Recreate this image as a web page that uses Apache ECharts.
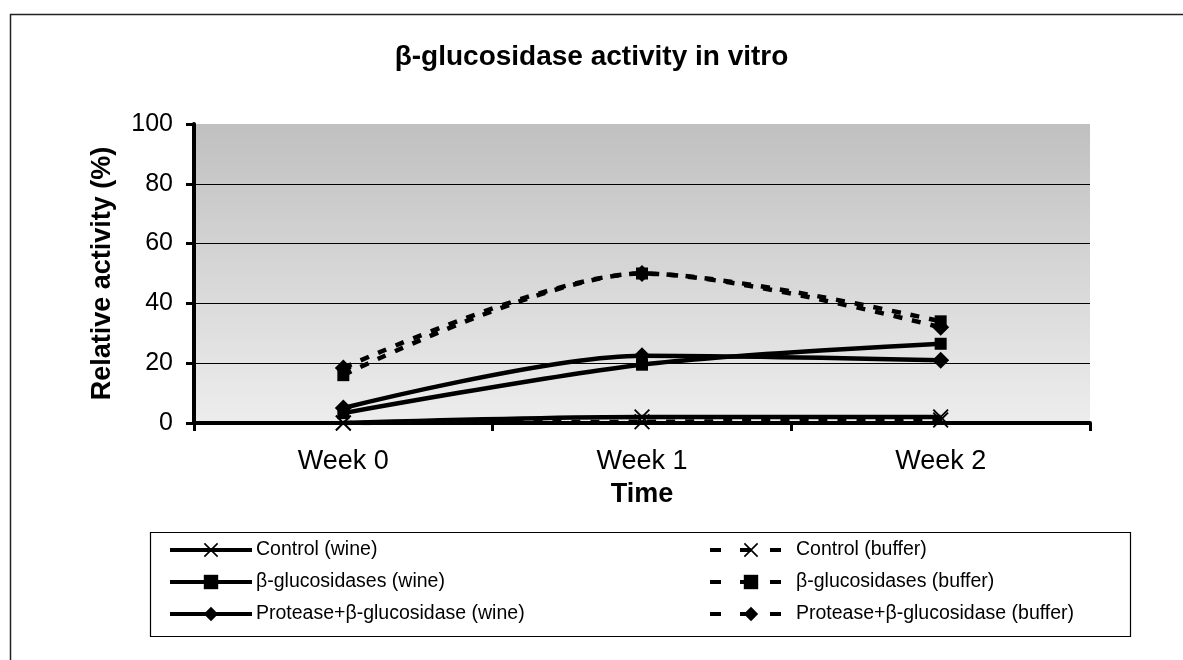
<!DOCTYPE html>
<html>
<head>
<meta charset="utf-8">
<title>β-glucosidase activity in vitro</title>
<script src="https://cdn.jsdelivr.net/npm/echarts@6/dist/echarts.min.js"></script>
<style>
    html, body { margin: 0; padding: 0; background: #fff; }
    #main { width: 1183px; height: 660px; }
</style>
</head>
<body>
<div id="main"></div>
<script>
// data
var weeks = ['Week 0', 'Week 1', 'Week 2'];
var yTicks = [0, 20, 40, 60, 80, 100];
var controlWine = [0, 2, 2];
var glucWine = [3.3, 19.5, 26.5];
var proteaseWine = [5, 22.5, 21];
var controlBuffer = [0, 0.4, 1];
var glucBuffer = [16, 50, 34];
var proteaseBuffer = [18.4, 50, 32];

var font = '"Liberation Sans", Arial, sans-serif';
var crossPath = 'path://M0,0.8 L0.8,0 L5,4.2 L9.2,0 L10,0.8 L5.8,5 L10,9.2 L9.2,10 L5,5.8 L0.8,10 L0,9.2 L4.2,5 Z';
var dash = [9, 10];
var legendDash = [11, 19];

function makeSeries(name, data, symbol, size, dashed) {
    return {
        name: name,
        type: 'line',
        data: data,
        smooth: 0.3,
        symbol: symbol,
        symbolSize: size,
        showAllSymbol: true,
        color: '#000',
        itemStyle: { color: '#000' },
        lineStyle: {
            color: '#000',
            width: 4.5,
            type: dashed ? dash : 'solid'
        },
        emphasis: { disabled: true },
        z: dashed ? 3 : 4
    };
}

function legendBox(left, items) {
    return {
        orient: 'vertical',
        left: left,
        top: 540,
        padding: 0,
        itemWidth: 82,
        itemHeight: 18,
        itemGap: 12,
        lineStyle: { width: 4 },
        textStyle: { fontFamily: font, fontSize: 19.5, color: '#000', padding: [0, 0, 0, -1] },
        data: items
    };
}

var myChart = echarts.init(document.getElementById('main'));

var option = {
    backgroundColor: '#fff',
    animation: false,
    textStyle: { fontFamily: font, color: '#000' },
    title: {
        text: 'β-glucosidase activity in vitro',
        left: 'center',
        top: 43,
        padding: 0,
        textStyle: {
            fontFamily: font,
            fontSize: 28,
            fontWeight: 'bold',
            color: '#000'
        }
    },
    grid: {
        left: 194,
        right: 93,
        top: 124,
        bottom: 237,
        show: true,
        borderWidth: 0,
        backgroundColor: {
            type: 'linear', x: 0, y: 0, x2: 0, y2: 1,
            colorStops: [
                { offset: 0, color: '#c0c0c0' },
                { offset: 1, color: '#ededed' }
            ]
        }
    },
    legend: [
        legendBox(168, ['Control (wine)', 'β-glucosidases (wine)', 'Protease+β-glucosidase (wine)']),
        legendBox(708, [
            { name: 'Control (buffer)', lineStyle: { type: legendDash } },
            { name: 'β-glucosidases (buffer)', lineStyle: { type: legendDash } },
            { name: 'Protease+β-glucosidase (buffer)', lineStyle: { type: legendDash } }
        ])
    ],
    xAxis: {
        type: 'category',
        data: weeks,
        boundaryGap: true,
        name: 'Time',
        nameLocation: 'middle',
        nameGap: 58,
        nameTextStyle: { fontFamily: font, fontSize: 27, fontWeight: 'bold', color: '#000' },
        axisLine: { lineStyle: { color: '#000', width: 4 } },
        axisTick: { show: true, length: 8, lineStyle: { color: '#000', width: 3 } },
        axisLabel: { fontFamily: font, fontSize: 27, color: '#000', margin: 25 },
        splitLine: { show: false }
    },
    yAxis: {
        type: 'value',
        min: yTicks[0],
        max: yTicks[yTicks.length - 1],
        interval: 20,
        name: 'Relative activity (%)',
        nameLocation: 'middle',
        nameGap: 78,
        nameTextStyle: { fontFamily: font, fontSize: 27, fontWeight: 'bold', color: '#000' },
        axisLine: { show: true, lineStyle: { color: '#000', width: 4 } },
        axisTick: { show: true, length: 8, lineStyle: { color: '#000', width: 3 } },
        axisLabel: { fontFamily: font, fontSize: 25, color: '#000', margin: 21 },
        // no grid line on the top edge
        splitLine: { show: true, lineStyle: { color: ['#000', '#000', '#000', '#000', '#000', 'rgba(0,0,0,0)'], width: 1 } }
    },
    graphic: [{
        type: 'rect',
        silent: true,
        shape: { x: 10.5, y: 14.5, width: 1300, height: 800 },
        style: { fill: 'none', stroke: '#222', lineWidth: 1.5 }
    }, {
        type: 'rect',
        silent: true,
        shape: { x: 150.5, y: 532.5, width: 980, height: 104 },
        style: { fill: 'none', stroke: '#000', lineWidth: 1.2 }
    }],
    series: [
        makeSeries('Control (buffer)', controlBuffer, crossPath, 16, true),
        makeSeries('β-glucosidases (buffer)', glucBuffer, 'rect', 12, true),
        makeSeries('Protease+β-glucosidase (buffer)', proteaseBuffer, 'diamond', 17, true),
        makeSeries('Control (wine)', controlWine, crossPath, 16, false),
        makeSeries('β-glucosidases (wine)', glucWine, 'rect', 12, false),
        makeSeries('Protease+β-glucosidase (wine)', proteaseWine, 'diamond', 17, false)
    ]
};
myChart.setOption(option, true);
</script>
</body>
</html>
